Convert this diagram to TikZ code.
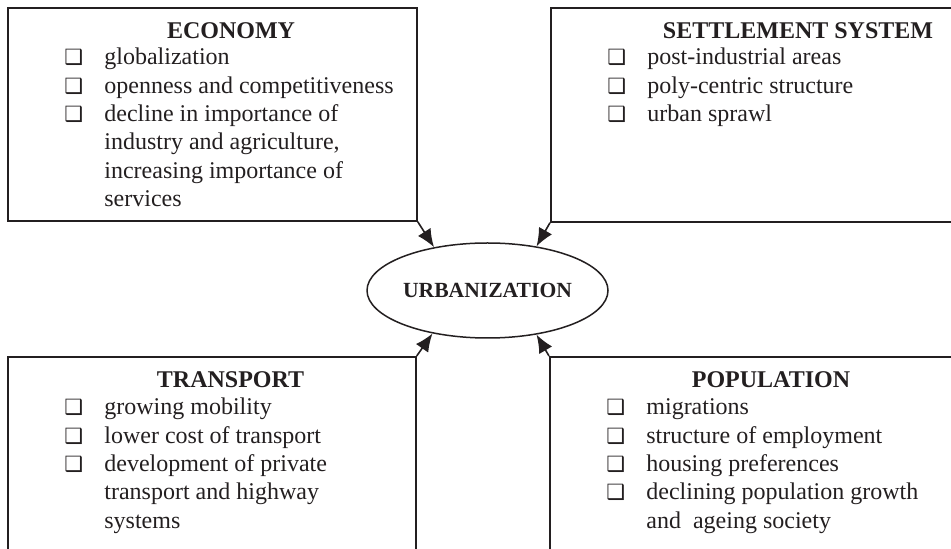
\documentclass[tikz,border=0pt]{standalone}
\usepackage{fontspec}
\setmainfont{Liberation Serif}
\newfontfamily\dingfont{DejaVu Sans}
\usetikzlibrary{shapes.geometric,arrows.meta}

\definecolor{ink}{RGB}{35,31,32}
\newcommand{\bul}{{\dingfont\fontsize{10.5}{10.5}\selectfont ❑}}

\tikzset{
	box/.style={draw=ink, line width=0.85pt, rectangle, anchor=north west, inner sep=0pt},
	head/.style={font=\fontsize{12}{14.15}\selectfont\bfseries, text=ink, anchor=base, inner sep=0pt},
	items/.style={font=\fontsize{12}{14.15}\selectfont, text=ink, anchor=base west, inner sep=0pt},
	hub/.style={draw=ink, ellipse, line width=0.75pt, minimum width=120.5pt, minimum height=47.5pt,
		inner sep=0pt, font=\fontsize{10.8}{13}\selectfont\bfseries, text=ink},
	arr/.style={draw=ink, line width=0.8pt, -{Latex[length=9pt,width=7.5pt]}},
}

\begin{document}
\begin{tikzpicture}[x=0.5pt, y=-0.5pt]
	\useasboundingbox (0,0) rectangle (951,549);
	\clip (0,0) rectangle (951,549);

	\node[box, minimum width=204.5pt, minimum height=106.5pt]	(econ)	at (7,7)	{};
	\node[box, minimum width=210pt, minimum height=107pt]	(settle)	at (550,7)	{};
	\node[box, minimum width=204pt, minimum height=110pt]	(trans)	at (7,356)	{};
	\node[box, minimum width=210pt, minimum height=110pt]	(popul)	at (549,356)	{};

	\node[hub]	(urb)	at (487.5,290.5)	{URBANIZATION};

	\node[head]	(econ-title)	at (231,39)	{ECONOMY};
	\node[items]	(econ-list)	at (64,65)	{\begin{tabular}[t]{@{}p{20pt}@{}l@{}}
		\bul & globalization\\
		\bul & openness and competitiveness\\
		\bul & decline in importance of\\
		     & industry and agriculture,\\
		     & increasing importance of\\
		     & services
	\end{tabular}};

	\node[head]	(settle-title)	at (798,39)	{SETTLEMENT SYSTEM};
	\node[items]	(settle-list)	at (607,65)	{\begin{tabular}[t]{@{}p{20pt}@{}l@{}}
		\bul & post-industrial areas\\
		\bul & poly-centric structure\\
		\bul & urban sprawl
	\end{tabular}};

	\node[head]	(trans-title)	at (230.5,387)	{TRANSPORT};
	\node[items]	(trans-list)	at (64,415)	{\begin{tabular}[t]{@{}p{20pt}@{}l@{}}
		\bul & growing mobility\\
		\bul & lower cost of transport\\
		\bul & development of private\\
		     & transport and highway\\
		     & systems
	\end{tabular}};

	\node[head]	(popul-title)	at (771,387)	{POPULATION};
	\node[items]	(popul-list)	at (606,415)	{\begin{tabular}[t]{@{}p{20pt}@{}l@{}}
		\bul & migrations\\
		\bul & structure of employment\\
		\bul & housing preferences\\
		\bul & declining population growth\\
		     & and\ \ ageing society
	\end{tabular}};

	\draw[arr]	(econ.south east)	--	(urb.141);
	\draw[arr]	(settle.south west)	--	(urb.42);
	\draw[arr]	(trans.north east)	--	(urb.218);
	\draw[arr]	(popul.north west)	--	(urb.318);

\end{tikzpicture}
\end{document}
